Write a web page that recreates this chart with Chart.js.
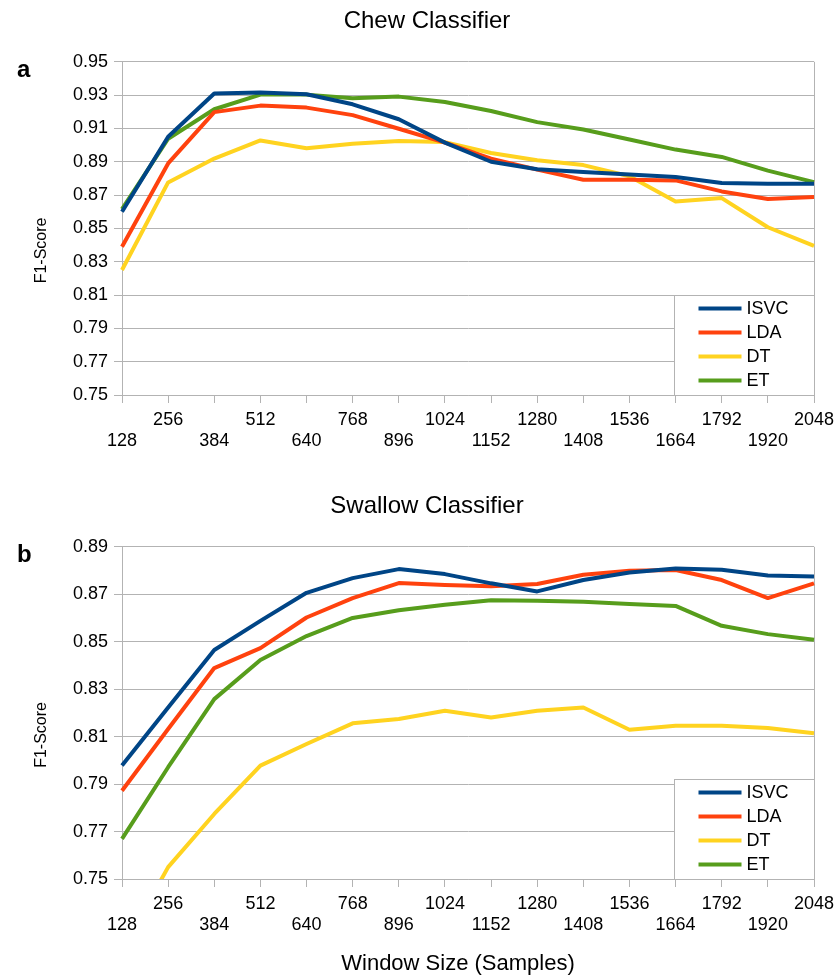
<!DOCTYPE html>
<html>
<head>
<meta charset="utf-8">
<title>Chew / Swallow Classifier F1-Score</title>
<script src="https://cdn.jsdelivr.net/npm/chart.js@4.4.1/dist/chart.umd.min.js"></script>
<style>
  html, body { margin: 0; padding: 0; background: #fff; }
  .panel { position: absolute; left: 0; width: 837px; }
  #chewPanel { top: 0; height: 484px; }
  #swallowPanel { top: 485px; height: 493px; }
</style>
</head>
<body>
<div class="panel" id="chewPanel"><canvas id="chewChart"></canvas></div>
<div class="panel" id="swallowPanel"><canvas id="swallowChart"></canvas></div>
<script>
// window sizes (samples) on the x axis
const windowSizes = [128, 256, 384, 512, 640, 768, 896, 1024, 1152, 1280, 1408, 1536, 1664, 1792, 1920, 2048];
const seriesNames = ['ISVC', 'LDA', 'DT', 'ET'];
const seriesColors = ['#004586', '#ff420e', '#ffd320', '#579d1c'];

// a: chew classifier
const chewIsvc = [0.860, 0.905, 0.931, 0.9315, 0.9305, 0.9245, 0.9155, 0.9015, 0.890, 0.8855, 0.8838, 0.8823, 0.8808, 0.8772, 0.8768, 0.8768];
const chewLda  = [0.839, 0.889, 0.9198, 0.9237, 0.9225, 0.918, 0.9098, 0.9015, 0.8919, 0.8853, 0.8792, 0.8792, 0.8788, 0.8722, 0.8676, 0.8688];
const chewDt   = [0.825, 0.8776, 0.8919, 0.9028, 0.8981, 0.9008, 0.9024, 0.9018, 0.8953, 0.8909, 0.888, 0.8813, 0.8662, 0.8682, 0.8507, 0.8395];
const chewEt   = [0.8616, 0.9038, 0.9215, 0.9303, 0.9303, 0.9281, 0.9291, 0.9259, 0.9205, 0.9138, 0.9094, 0.9034, 0.8973, 0.8929, 0.8847, 0.8778];
const chewRange = [0.75, 0.95];

// b: swallow classifier
const swallowIsvc = [0.7978, 0.8223, 0.8465, 0.8588, 0.8706, 0.8768, 0.8806, 0.8785, 0.8746, 0.8712, 0.8760, 0.8792, 0.8809, 0.8803, 0.8779, 0.8775];
const swallowLda  = [0.7872, 0.8132, 0.8389, 0.8473, 0.8602, 0.8684, 0.8747, 0.8739, 0.8734, 0.8743, 0.8782, 0.8799, 0.8802, 0.876, 0.8684, 0.8746];
const swallowDt   = [0.72, 0.755, 0.7774, 0.7978, 0.8069, 0.8156, 0.8174, 0.8209, 0.8181, 0.8209, 0.8223, 0.8129, 0.8146, 0.8146, 0.8136, 0.8114];
const swallowEt   = [0.7669, 0.7971, 0.8258, 0.8423, 0.8524, 0.86, 0.8633, 0.8656, 0.8675, 0.8673, 0.8668, 0.8659, 0.8651, 0.8567, 0.8532, 0.8508];
const swallowRange = [0.75, 0.89];

const yStep = 0.02;

const FONT = '"Liberation Sans", Arial, sans-serif';
const GRID = '#b3b3b3';

// legend box, panel letter, axis titles and right frame line
const panelDecor = {
  id: 'panelDecor',
  beforeDatasetsDraw(chart) {
    const { ctx, chartArea: a } = chart;
    ctx.save();
    ctx.strokeStyle = GRID;
    ctx.lineWidth = 1;
    const x = Math.round(a.right) + 0.5;
    ctx.beginPath();
    ctx.moveTo(x, a.top);
    ctx.lineTo(x, a.bottom);
    ctx.stroke();
    ctx.restore();
  },
  afterDatasetsDraw(chart) {
    const { ctx, chartArea: a } = chart;
    const w = 140, h = 100;
    const left = Math.round(a.right - w) + 0.5;
    const top = Math.round(a.bottom - h) + 0.5;
    ctx.save();
    ctx.fillStyle = '#fff';
    ctx.fillRect(left, top, w, h);
    ctx.strokeStyle = GRID;
    ctx.lineWidth = 1;
    ctx.strokeRect(left, top, w, h);
    ctx.font = '18px ' + FONT;
    ctx.textBaseline = 'middle';
    ctx.textAlign = 'left';
    chart.data.datasets.forEach((ds, i) => {
      const y = top + 13 + i * 24;
      ctx.strokeStyle = ds.borderColor;
      ctx.lineWidth = 4;
      ctx.beginPath();
      ctx.moveTo(left + 24, y);
      ctx.lineTo(left + 67, y);
      ctx.stroke();
      ctx.fillStyle = '#000';
      ctx.fillText(ds.label, left + 72, y + 1);
    });
    ctx.restore();
  },
  afterDraw(chart, args, opts) {
    const { ctx, chartArea: a } = chart;
    ctx.save();
    ctx.fillStyle = '#000';
    ctx.font = 'bold 24px ' + FONT;
    ctx.textAlign = 'left';
    ctx.textBaseline = 'alphabetic';
    ctx.fillText(opts.letter, 17, 77);

    ctx.font = '16px ' + FONT;
    ctx.textAlign = 'center';
    ctx.textBaseline = 'middle';
    ctx.translate(42, (a.top + a.bottom) / 2 + 22);
    ctx.rotate(-Math.PI / 2);
    ctx.fillText('F1-Score', 0, 0);
    ctx.restore();

    if (opts.xTitle) {
      ctx.save();
      ctx.fillStyle = '#000';
      ctx.font = '22px ' + FONT;
      ctx.textAlign = 'center';
      ctx.textBaseline = 'middle';
      ctx.fillText(opts.xTitle, 458, chart.height - 14);
      ctx.restore();
    }
  }
};

function makeChart(canvasId, title, letter, values, range, xAxisHeight, xTitle) {
  const datasets = seriesNames.map((name, i) => ({
    label: name,
    data: values[i],
    borderColor: seriesColors[i],
    backgroundColor: seriesColors[i],
    borderWidth: 4,
    pointRadius: 0,
    tension: 0,
    borderJoinStyle: 'round',
    fill: false
  }));

  return new Chart(document.getElementById(canvasId), {
    type: 'line',
    data: { labels: windowSizes.map(String), datasets: datasets },
    options: {
      responsive: true,
      maintainAspectRatio: false,
      animation: false,
      devicePixelRatio: 1,
      layout: { padding: { left: 40, right: 23, top: 0, bottom: 0 } },
      plugins: {
        legend: { display: false },
        tooltip: { enabled: false },
        title: {
          display: true,
          text: title,
          color: '#000',
          font: { family: FONT, size: 24, weight: 'normal' },
          padding: { top: 7, bottom: 26 }
        },
        panelDecor: { letter: letter, xTitle: xTitle }
      },
      scales: {
        x: {
          offset: false,
          grid: { drawOnChartArea: false, tickLength: 8, color: GRID },
          border: { color: GRID },
          ticks: {
            autoSkip: false,
            maxRotation: 0,
            padding: 7,
            color: '#000',
            font: { family: FONT, size: 18, lineHeight: 1.16 },
            callback: function (value, index) {
              const label = this.getLabelForValue(value);
              return index % 2 ? [label, ''] : ['', label];
            }
          },
          afterFit(scale) {
            scale.height = xAxisHeight;
            scale.paddingLeft = 0;
            scale.paddingRight = 0;
          }
        },
        y: {
          min: range[0],
          max: range[1],
          grid: { color: GRID, tickLength: 8 },
          border: { color: GRID },
          ticks: {
            stepSize: yStep,
            padding: 6,
            color: '#000',
            font: { family: FONT, size: 18 },
            callback: (v) => v.toFixed(2)
          },
          afterFit(scale) {
            scale.width = 82;
          }
        }
      }
    },
    plugins: [panelDecor]
  });
}

makeChart('chewChart', 'Chew Classifier', 'a',
  [chewIsvc, chewLda, chewDt, chewEt], chewRange, 89, null);
makeChart('swallowChart', 'Swallow Classifier', 'b',
  [swallowIsvc, swallowLda, swallowDt, swallowEt], swallowRange, 99, 'Window Size (Samples)');
</script>
</body>
</html>
